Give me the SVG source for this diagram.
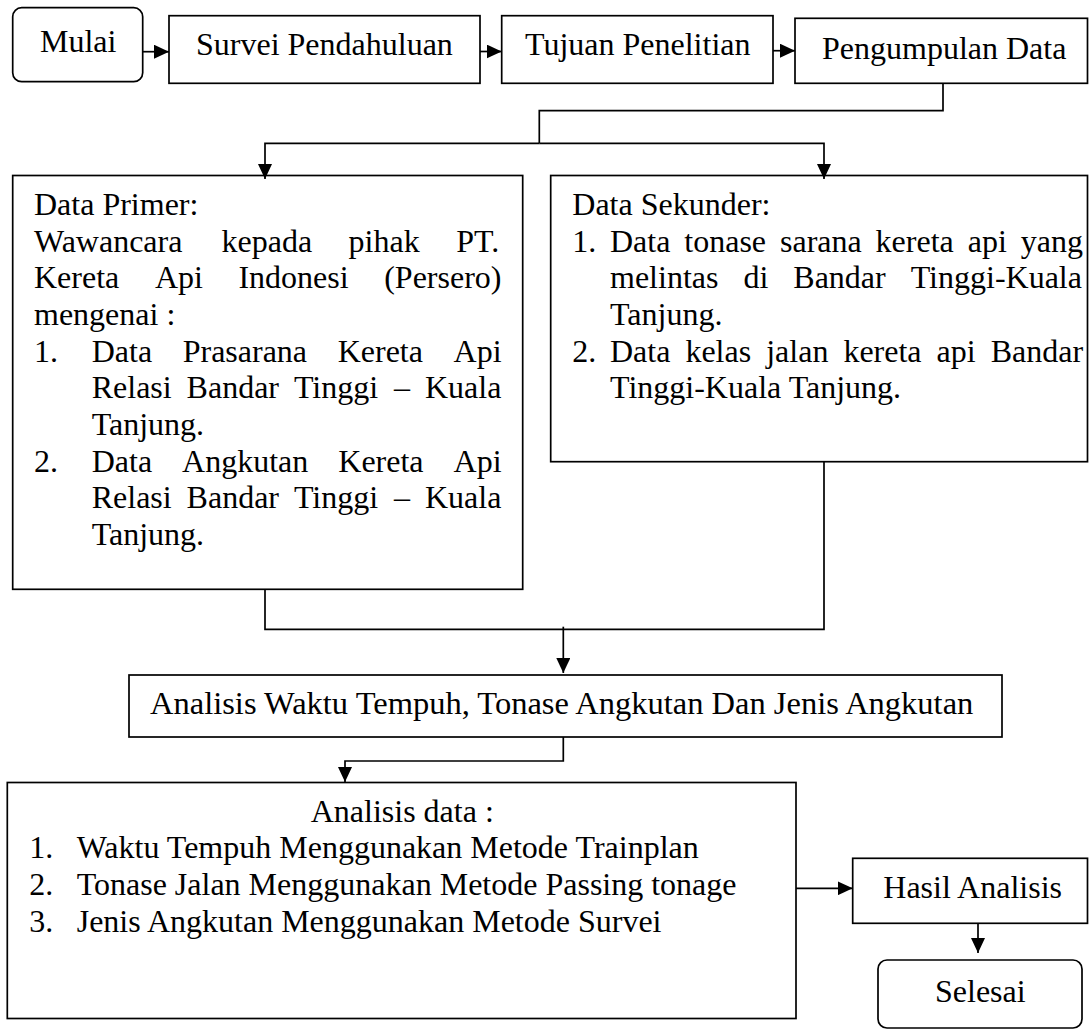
<svg xmlns="http://www.w3.org/2000/svg" width="1089" height="1030" viewBox="0 0 1089 1030">
<style>
.box{fill:#fff;stroke:#000;stroke-width:1.7}
.t{font-family:"Liberation Serif","Times New Roman",serif;font-size:32px;fill:#000}
.c{fill:none;stroke:#000;stroke-width:1.7}
</style>
<defs>
<marker id="ah" markerWidth="16" markerHeight="14" refX="15" refY="7" orient="auto" markerUnits="userSpaceOnUse">
<path d="M0,0 L15,7 L0,14 z" fill="#000"/>
</marker>
</defs>
<rect width="1089" height="1030" fill="#fff"/>
<g id="mulai">
<rect class="box" x="12.7" y="7.7" width="130" height="74" rx="9"/>
<text class="t" x="40" y="52">Mulai</text>
</g>
<g id="survei">
<rect class="box" x="169" y="15.7" width="311" height="67.6"/>
<text class="t" x="196" y="55">Survei Pendahuluan</text>
</g>
<g id="tujuan">
<rect class="box" x="501.7" y="15.7" width="271.3" height="67.6"/>
<text class="t" x="525" y="55">Tujuan Penelitian</text>
</g>
<g id="pengumpulan">
<rect class="box" x="795" y="18.3" width="292.5" height="65"/>
<text class="t" x="822" y="59.3">Pengumpulan Data</text>
</g>
<g id="primer">
<rect class="box" x="12.7" y="175.5" width="510" height="413.8"/>
<text class="t" x="34" y="215">Data Primer:</text>
<text class="t" y="251.7"><tspan x="34">Wawancara</tspan><tspan x="221.5">kepada</tspan><tspan x="348.6">pihak</tspan><tspan x="456.2">PT.</tspan></text>
<text class="t" y="288.3"><tspan x="34">Kereta</tspan><tspan x="154.9">Api</tspan><tspan x="238.4">Indonesi</tspan><tspan x="384.2">(Persero)</tspan></text>
<text class="t" x="34" y="325">mengenai :</text>
<text class="t" y="361.7"><tspan x="34">1.</tspan><tspan x="91.7">Data</tspan><tspan x="182.7">Prasarana</tspan><tspan x="337.7">Kereta</tspan><tspan x="453.6">Api</tspan></text>
<text class="t" y="398.3"><tspan x="91.7">Relasi</tspan><tspan x="186.6">Bandar</tspan><tspan x="293.9">Tinggi</tspan><tspan x="394.1">–</tspan><tspan x="425">Kuala</tspan></text>
<text class="t" x="91.7" y="435">Tanjung.</text>
<text class="t" y="471.7"><tspan x="34">2.</tspan><tspan x="91.7">Data</tspan><tspan x="182.1">Angkutan</tspan><tspan x="338.3">Kereta</tspan><tspan x="453.6">Api</tspan></text>
<text class="t" y="508.3"><tspan x="91.7">Relasi</tspan><tspan x="186.6">Bandar</tspan><tspan x="293.9">Tinggi</tspan><tspan x="394.1">–</tspan><tspan x="425">Kuala</tspan></text>
<text class="t" x="91.7" y="545">Tanjung.</text>
</g>
<g id="sekunder">
<rect class="box" x="550.7" y="175.5" width="536.8" height="286.2"/>
<text class="t" x="572.3" y="215">Data Sekunder:</text>
<text class="t" y="251.7"><tspan x="572.3">1.</tspan><tspan x="610">Data</tspan><tspan x="684.3">tonase</tspan><tspan x="780">sarana</tspan><tspan x="875.6">kereta</tspan><tspan x="967.7">api</tspan><tspan x="1020.7">yang</tspan></text>
<text class="t" y="288.3"><tspan x="610">melintas</tspan><tspan x="743.4">di</tspan><tspan x="793.3">Bandar</tspan><tspan x="910.7">Tinggi-Kuala</tspan></text>
<text class="t" x="610" y="325">Tanjung.</text>
<text class="t" y="361.7"><tspan x="572.3">2.</tspan><tspan x="610">Data</tspan><tspan x="685.4">kelas</tspan><tspan x="766.2">jalan</tspan><tspan x="843.4">kereta</tspan><tspan x="936.6">api</tspan><tspan x="990.7">Bandar</tspan></text>
<text class="t" x="610" y="398.3">Tinggi-Kuala Tanjung.</text>
</g>
<g id="analisis">
<rect class="box" x="129" y="675" width="873" height="62"/>
<text class="t" x="150" y="713.5" style="font-size:32.5px">Analisis Waktu Tempuh, Tonase Angkutan Dan Jenis Angkutan</text>
</g>
<g id="analisis-data">
<rect class="box" x="7.3" y="782.5" width="788.7" height="236"/>
<text class="t" x="310.7" y="821.7">Analisis data :</text>
<text class="t" y="858.3"><tspan x="29.3">1.</tspan><tspan x="76.7">Waktu Tempuh Menggunakan Metode Trainplan</tspan></text>
<text class="t" y="895"><tspan x="29.3">2.</tspan><tspan x="76.7">Tonase Jalan Menggunakan Metode Passing tonage</tspan></text>
<text class="t" y="931.7"><tspan x="29.3">3.</tspan><tspan x="76.7">Jenis Angkutan Menggunakan Metode Survei</tspan></text>
</g>
<g id="hasil">
<rect class="box" x="852.7" y="858.3" width="234.8" height="65"/>
<text class="t" x="883.3" y="898.3">Hasil Analisis</text>
</g>
<g id="selesai">
<rect class="box" x="878" y="960" width="204" height="68" rx="9"/>
<text class="t" x="935" y="1001.7">Selesai</text>
</g>
<g id="connectors">
<path class="c" d="M142.7,51.7 H169" marker-end="url(#ah)"/>
<path class="c" d="M480,51.5 H501.7" marker-end="url(#ah)"/>
<path class="c" d="M773,50.7 H795" marker-end="url(#ah)"/>
<path class="c" d="M943,83.3 V110.7 H539.3 V143.3"/>
<path class="c" d="M539.3,143.3 H265 V179" marker-end="url(#ah)"/>
<path class="c" d="M539.3,143.3 H824 V179" marker-end="url(#ah)"/>
<path class="c" d="M265,589.3 V629.3 H824 V461.7"/>
<path class="c" d="M563.3,626.7 V673" marker-end="url(#ah)"/>
<path class="c" d="M563.3,737 V761 H345 V782" marker-end="url(#ah)"/>
<path class="c" d="M796,888.3 H852.7" marker-end="url(#ah)"/>
<path class="c" d="M978,923.3 V953" marker-end="url(#ah)"/>
</g>
</svg>
